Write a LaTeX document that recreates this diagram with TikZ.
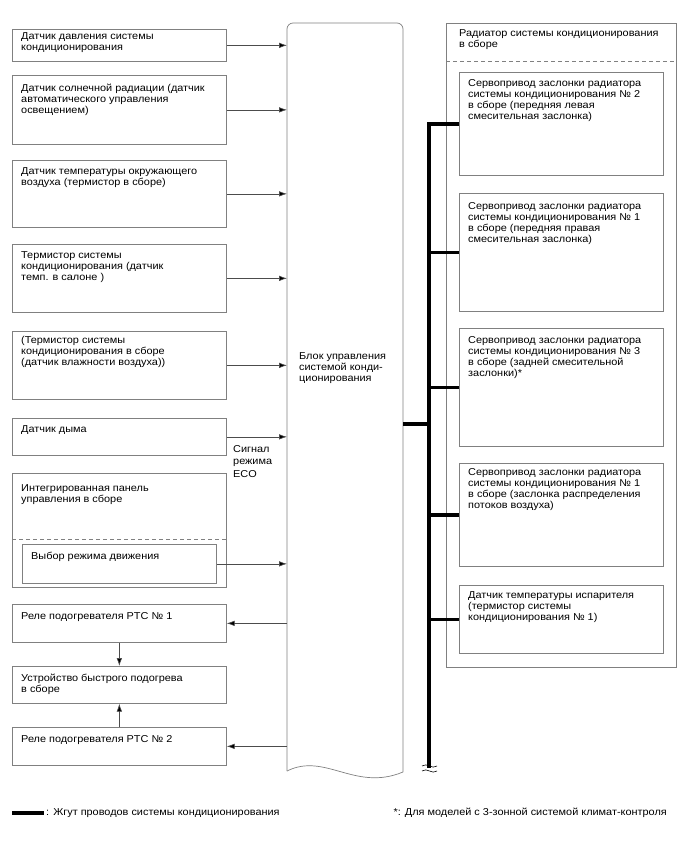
\documentclass[tikz,border=0pt]{standalone}
\usepackage{fontspec}
\setmainfont{Liberation Sans}[FakeStretch=1.09]
\usetikzlibrary{arrows.meta}
\definecolor{boxgray}{gray}{0.5}
\definecolor{linegray}{gray}{0.3}
\tikzset{
  box/.style={draw=boxgray, line width=0.7pt, inner sep=0pt, anchor=north west},
  txt/.style={anchor=north west, inner sep=0pt, align=left, font=\fontsize{10}{11}\selectfont},
  arr/.style={draw=linegray, line width=0.6pt, -{Latex[length=8pt,width=5.5pt,fill=black]}},
  harness/.style={line width=3.6pt, black},
  dsh/.style={draw=boxgray, line width=0.7pt, dash pattern=on 4pt off 3pt},
}
\begin{document}
\begin{tikzpicture}[x=1pt,y=-1pt]
\useasboundingbox (0,0) rectangle (688,852);
% left boxes
\node[box, minimum width=214pt, minimum height=32pt] (b1) at (12,29) {};
\node[box, minimum width=214pt, minimum height=69pt] (b2) at (12,75) {};
\node[box, minimum width=214pt, minimum height=67pt] (b3) at (12,160) {};
\node[box, minimum width=214pt, minimum height=68pt] (b4) at (12,244) {};
\node[box, minimum width=214pt, minimum height=68pt] (b5) at (12,331) {};
\node[box, minimum width=214pt, minimum height=37pt] (b6) at (12,418) {};
\node[box, minimum width=214pt, minimum height=114pt] (b7) at (12,473) {};
\node[box, minimum width=194pt, minimum height=39pt] (b7i) at (22,544) {};
\node[box, minimum width=214pt, minimum height=38pt] (b8) at (12,604) {};
\node[box, minimum width=214pt, minimum height=37pt] (b9) at (12,666) {};
\node[box, minimum width=214pt, minimum height=38pt] (b10) at (12,727) {};
\coordinate (d7l) at (12,539);
\coordinate (d7r) at (226,539);
\draw[dsh] (d7l) -- (d7r);

\node[txt] (t1) at (21,31.3) {\strut Датчик давления системы\\кондиционирования};
\node[txt] (t2) at (21,83.3) {\strut Датчик солнечной радиации (датчик\\автоматического управления\\освещением)};
\node[txt] (t3) at (21,166.3) {\strut Датчик температуры окружающего\\воздуха (термистор в сборе)};
\node[txt] (t4) at (21,250.3) {\strut Термистор системы\\кондиционирования (датчик\\темп. в салоне )};
\node[txt] (t5) at (21,335.3) {\strut (Термистор системы\\кондиционирования в сборе\\(датчик влажности воздуха))};
\node[txt] (t6) at (21,424.3) {\strut Датчик дыма};
\node[txt] (t7) at (21,483.3) {\strut Интегрированная панель\\управления в сборе};
\node[txt] (t7i) at (31,551.3) {\strut Выбор режима движения};
\node[txt] (t8) at (21,611.3) {\strut Реле подогревателя PTC № 1};
\node[txt] (t9) at (21,673.3) {\strut Устройство быстрого подогрева\\в сборе};
\node[txt] (t10) at (21,734.3) {\strut Реле подогревателя PTC № 2};

% ECU
\node[inner sep=0pt, anchor=north west, minimum width=116pt, minimum height=748pt] (ecu) at (287,23) {};
\draw[draw=boxgray, line width=0.7pt, rounded corners=6pt] (287,771) -- (287,23) -- (403,23) -- (403,772);
\draw[draw=boxgray, line width=0.7pt] (287,771) .. controls (325,752) and (355,792) .. (403,772);
\node[txt] (tecu) at (299,351.3) {\strut Блок управления\\системой конди-\\ционирования};
\node[txt, font=\fontsize{10}{12.3}\selectfont] (tsig) at (233,443.6) {\strut Сигнал\\режима\\ECO};

% arrows to ECU
\foreach \b in {b1,b2,b3,b4,b5,b6,b7i}{
  \draw[arr] (\b.east) -- (\b.east -| ecu.west);
}
\draw[arr] (b8.east -| ecu.west) -- (b8.east);
\draw[arr] (b10.east -| ecu.west) -- (b10.east);
\draw[arr] (b8) -- (b9);
\draw[arr] (b10) -- (b9);

% radiator assembly
\node[box, minimum width=230pt, minimum height=644pt] (rad) at (446,23) {};
\coordinate (drl) at (446,61);
\coordinate (drr) at (676,61);
\draw[dsh] (drl) -- (drr);
\node[txt] (trad) at (459,28.3) {\strut Радиатор системы кондиционирования\\в сборе};
\node[box, minimum width=204pt, minimum height=103pt] (r1) at (459,72) {};
\node[box, minimum width=204pt, minimum height=118pt] (r2) at (459,193) {};
\node[box, minimum width=204pt, minimum height=118pt] (r3) at (459,328) {};
\node[box, minimum width=204pt, minimum height=103pt] (r4) at (459,463) {};
\node[box, minimum width=204pt, minimum height=68pt] (r5) at (459,585) {};
\node[txt] (tr1) at (468,78.3) {\strut Сервопривод заслонки радиатора\\системы кондиционирования № 2\\в сборе (передняя левая\\смесительная заслонка)};
\node[txt] (tr2) at (468,201.3) {\strut Сервопривод заслонки радиатора\\системы кондиционирования № 1\\в сборе (передняя правая\\смесительная заслонка)};
\node[txt] (tr3) at (468,335.8) {\strut Сервопривод заслонки радиатора\\системы кондиционирования № 3\\в сборе (задней смесительной\\заслонки)*};
\node[txt] (tr4) at (468,467.3) {\strut Сервопривод заслонки радиатора\\системы кондиционирования № 1\\в сборе (заслонка распределения\\потоков воздуха)};
\node[txt] (tr5) at (468,590.3) {\strut Датчик температуры испарителя\\(термистор системы\\кондиционирования № 1)};

% harness
\coordinate (busbot) at (429,768);
\coordinate (junc) at (429,424);
\draw[harness] (r1.west) -| (busbot);
\foreach \r in {r2,r3,r4,r5}{
  \draw[harness] (\r.west) -- (\r.west -| busbot);
}
\draw[harness] (ecu.east |- junc) -- (junc);
\draw[line width=0.6pt] (422,766) .. controls (427,762) and (432,770) .. (437,766);
\draw[line width=0.6pt] (422,771) .. controls (427,767) and (432,775) .. (437,771);

% legend
\coordinate (lg1) at (12,813);
\coordinate (lg2) at (44,813);
\draw[harness] (lg1) -- (lg2);
\node[txt, anchor=west] (tlg) at (46,813) {: Жгут проводов системы кондиционирования};
\node[txt, anchor=east] (tnote) at (667,813) {*: Для моделей с 3-зонной системой климат-контроля};
\end{tikzpicture}
\end{document}
